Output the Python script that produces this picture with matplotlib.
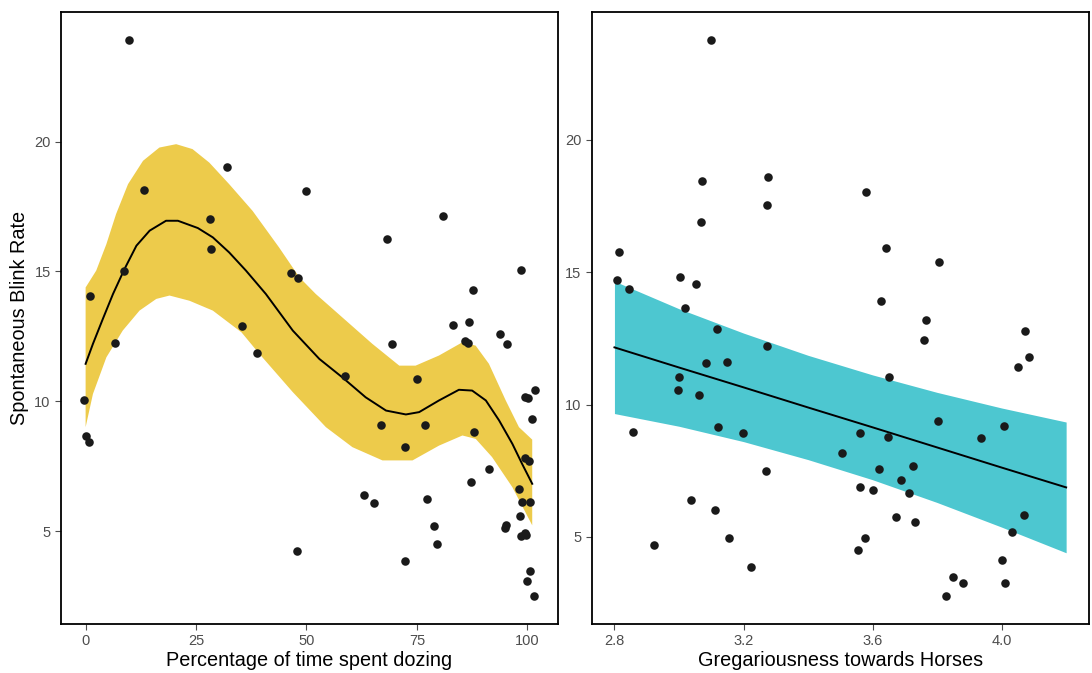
import numpy as np
import matplotlib
matplotlib.use('Agg')
import matplotlib.pyplot as plt

plt.rcParams['font.family'] = ['Liberation Sans', 'DejaVu Sans']

# left panel: dozing vs blink rate
doze_x = [9.9, 13.3, 32.0, 49.9, 28.2, 28.3, 8.8, 0.9, 46.6, 48.1, 68.2, 80.8, 98.6, 87.8,
          83.2, 86.9, 35.3, 6.7, 38.9, 69.3, 85.8, 86.5, 93.9, 95.4, 58.8, 75.0, -0.45,
          99.4, 100.1, 101.8, 101.1, 66.8, 76.8, 88.0, 72.2, 0.2, 0.7, 99.4, 100.3, 91.4,
          87.2, 98.2, 98.8, 100.6, 63.1, 65.2, 77.2, 98.3, 95.1, 95.0, 78.8, 79.5, 98.5,
          99.4, 99.8, 47.9, 72.2, 100.6, 100.0, 101.5]
doze_y = [23.91, 18.14, 19.03, 18.1, 17.03, 15.88, 15.0, 14.05, 14.92, 14.74, 16.23, 17.14,
          15.04, 14.27, 12.93, 13.05, 12.91, 12.24, 11.86, 12.2, 12.32, 12.24, 12.59, 12.2,
          10.97, 10.86, 10.06, 10.17, 10.13, 10.45, 9.33, 9.10, 9.10, 8.83, 8.22, 8.65, 8.41,
          7.83, 7.69, 7.38, 6.88, 6.62, 6.12, 6.12, 6.38, 6.08, 6.23, 5.59, 5.24, 5.12, 5.19,
          4.5, 4.82, 4.91, 4.85, 4.24, 3.86, 3.47, 3.09, 2.49]

# smooth fit and its band
fit_x = [0, 1.66, 3.9, 6.2, 8.8, 11.5, 14.5, 18.2, 20.9, 25.4, 28.8, 32.5, 36.3, 40.8, 46.9,
         52.9, 58.1, 63.4, 68.0, 72.5, 75.5, 80.0, 84.5, 87.5, 90.6, 93.6, 96.6, 98.8, 101.1]
fit_y = [11.44, 12.21, 13.17, 14.13, 15.09, 15.99, 16.57, 16.95, 16.95, 16.67, 16.31, 15.73,
         15.03, 14.13, 12.72, 11.63, 10.92, 10.15, 9.64, 9.49, 9.58, 10.03, 10.44, 10.41,
         10.03, 9.26, 8.36, 7.59, 6.82]
hi_x = [0, 2.4, 4.7, 6.9, 9.6, 13.0, 16.7, 20.5, 24.2, 28.0, 32.5, 37.8, 43.8, 48.4, 52.1,
        58.1, 64.9, 71.0, 74.7, 80.0, 85.3, 88.3, 91.3, 95.1, 98.1, 101.1]
hi_y = [14.38, 15.03, 16.05, 17.21, 18.36, 19.26, 19.77, 19.9, 19.71, 19.19, 18.36, 17.33,
        15.92, 14.77, 14.13, 13.23, 12.21, 11.37, 11.37, 11.76, 12.27, 12.14, 11.44, 10.03,
        9.0, 8.52]
lo_x = [0, 1.66, 4.7, 8.4, 12.2, 16.0, 19.0, 23.5, 28.8, 35.3, 39.3, 46.9, 54.4, 60.4, 67.2,
        74.0, 80.0, 85.3, 88.3, 92.0, 96.6, 101.1]
lo_y = [9.0, 10.28, 11.69, 12.72, 13.49, 13.94, 14.07, 13.87, 13.49, 12.65, 11.83, 10.35,
        9.0, 8.23, 7.72, 7.72, 8.29, 8.68, 8.55, 7.85, 6.69, 5.22]

# right panel: gregariousness vs blink rate
greg_x = [3.099, 3.072, 3.277, 3.272, 3.579, 3.068, 2.815, 3.641, 3.807, 2.809, 2.846, 3.003,
          3.052, 3.018, 3.625, 3.767, 3.117, 4.072, 3.272, 3.758, 4.085, 4.051, 3.083, 3.148,
          3.650, 3.0, 2.997, 3.062, 3.804, 4.007, 2.856, 3.121, 3.197, 3.561, 3.647, 3.937,
          3.506, 3.62, 3.724, 3.269, 3.687, 3.561, 3.601, 3.712, 3.038, 3.113, 3.673, 3.730,
          4.068, 4.031, 3.155, 3.576, 2.924, 3.554, 4.0, 3.224, 3.848, 3.881, 4.010, 3.829]
greg_y = [23.77, 18.44, 18.59, 17.55, 18.04, 16.9, 15.78, 15.9, 15.37, 14.7, 14.35, 14.8,
          14.54, 13.64, 13.91, 13.19, 12.85, 12.78, 12.21, 12.44, 11.81, 11.43, 11.58, 11.62,
          11.05, 11.05, 10.56, 10.37, 9.37, 9.18, 8.95, 9.14, 8.91, 8.91, 8.76, 8.72, 8.16,
          7.57, 7.68, 7.48, 7.15, 6.9, 6.78, 6.64, 6.40, 6.02, 5.77, 5.58, 5.84, 5.2, 4.96,
          4.94, 4.71, 4.52, 4.12, 3.85, 3.48, 3.24, 3.24, 2.76]

lm_x = [2.8, 3.0, 3.2, 3.4, 3.6, 3.8, 4.0, 4.2]
lm_y = [12.16, 11.40, 10.65, 9.89, 9.14, 8.38, 7.62, 6.87]
lm_hi = [14.66, 13.62, 12.70, 11.86, 11.12, 10.46, 9.87, 9.34]
lm_lo = [9.66, 9.18, 8.60, 7.92, 7.16, 6.30, 5.37, 4.40]

yellow = '#EDCB4B'
cyan = '#4DC7D0'
dot = '#1a1a1a'
grey = '#4d4d4d'


def style_axis(ax):
    for s in ax.spines.values():
        s.set_color('black')
        s.set_linewidth(1.3)
    ax.tick_params(direction='out', length=4, width=0.8, color=grey,
                   labelcolor=grey, labelsize=10.5)
    ax.set_yticks([5, 10, 15, 20])


fig = plt.figure(figsize=(10.92, 6.73), dpi=100)
ax1 = fig.add_axes([0.0559, 0.0728, 0.455, 0.909])
ax2 = fig.add_axes([0.542, 0.0728, 0.455, 0.909])

ax1.fill(hi_x + lo_x[::-1], hi_y + lo_y[::-1], color=yellow, lw=0)
ax1.plot(fit_x, fit_y, color='black', lw=1.4, solid_joinstyle='round')
ax1.scatter(doze_x, doze_y, s=38, color=dot, zorder=3, lw=0)
ax1.set_xticks([0, 25, 50, 75, 100])
ax1.set_xlabel('Percentage of time spent dozing', fontsize=14.3, labelpad=2)
ax1.set_ylabel('Spontaneous Blink Rate', fontsize=14.3, labelpad=4)
style_axis(ax1)

ax2.fill_between(lm_x, lm_lo, lm_hi, color=cyan, lw=0)
ax2.plot(lm_x, lm_y, color='black', lw=1.4)
ax2.scatter(greg_x, greg_y, s=38, color=dot, zorder=3, lw=0)
ax2.set_xticks([2.8, 3.2, 3.6, 4.0])
ax2.set_xticklabels(['2.8', '3.2', '3.6', '4.0'])
ax2.set_xlabel('Gregariousness towards Horses', fontsize=14.3, labelpad=2)
style_axis(ax2)

fig.savefig('out.png', dpi=100)
